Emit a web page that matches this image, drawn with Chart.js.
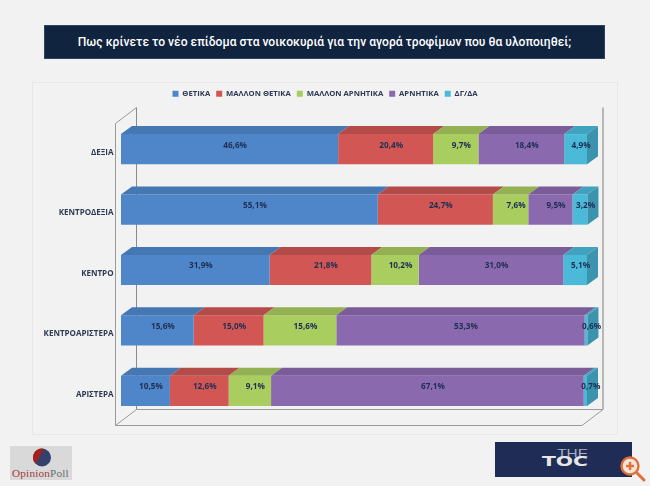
<!DOCTYPE html>
<html lang="el"><head><meta charset="utf-8">
<script src="https://cdn.jsdelivr.net/npm/chart.js@4"></script>
<style>
html,body{margin:0;padding:0;background:#f2f2f2;width:650px;height:486px;overflow:hidden}
#panel{position:absolute;left:32px;top:82px;width:584px;height:351px;border:1px solid #e8e8e8;box-sizing:content-box}
#banner{position:absolute;left:44px;top:25px;width:561px;height:34px;background:#10233f;color:#fff;font:500 12.1px Roboto,sans-serif;line-height:33px;text-align:center;box-sizing:border-box;border:1px solid #2e4460}
#c{position:absolute;left:0;top:0}
#op{position:absolute;left:10px;top:446px;width:62px;height:34px;background:#d9d9d9}
#op div{position:absolute;left:2px;top:21px;font:11.2px "Liberation Serif",serif;color:#a33a3a;letter-spacing:.2px;white-space:nowrap}
#op span{color:#6b6b6b}
#toc{position:absolute;left:495px;top:442px;width:137px;height:35px;background:#1f2c56}
#toc .t{position:absolute;left:59px;top:5px;width:34px;text-align:right;font:300 11px "Liberation Sans",sans-serif;color:#aab0c2;transform:scaleX(1.4);transform-origin:right center}
#toc .o{position:absolute;left:39px;top:11px;width:54px;text-align:right;font:900 14px "DejaVu Sans",sans-serif;line-height:17px;color:#e6e6e6;transform:scaleX(1.45);transform-origin:right center}
svg{position:absolute}
</style></head><body>
<div id="panel"></div>
<div id="banner">Πως κρίνετε το νέο επίδομα στα νοικοκυριά για την αγορά τροφίμων που θα υλοποιηθεί;</div>
<canvas id="c" width="650" height="486"></canvas>
<div id="op"><svg style="left:22px;top:2px" width="20" height="20"><circle cx="10" cy="9.5" r="9" fill="#34406e"/><path d="M10 .5A9 9 0 0 0 3.6 15.8L12 1Z" fill="#a3201c"/></svg><div>Opinion<span>Poll</span></div></div>
<div id="toc"><div class="t">THE</div><div class="o">TOC</div></div>
<svg style="left:618px;top:454px" width="32" height="32"><circle cx="12" cy="12" r="8.5" fill="#f4e3d8" stroke="#e0703a" stroke-width="2.4"/><path d="M18.5 18.5L26 26" stroke="#e0703a" stroke-width="3" stroke-linecap="round"/><path d="M12 8v8M8 12h8" stroke="#e0703a" stroke-width="2.4"/></svg>
<script>
const categories = ['ΔΕΞΙΑ','ΚΕΝΤΡΟΔΕΞΙΑ','ΚΕΝΤΡΟ','ΚΕΝΤΡΟΑΡΙΣΤΕΡΑ','ΑΡΙΣΤΕΡΑ'];
const seriesNames = ['ΘΕΤΙΚΑ','ΜΑΛΛΟΝ ΘΕΤΙΚΑ','ΜΑΛΛΟΝ ΑΡΝΗΤΙΚΑ','ΑΡΝΗΤΙΚΑ','ΔΓ/ΔΑ'];
const thetika = [46.6,55.1,31.9,15.6,10.5];
const mallonThetika = [20.4,24.7,21.8,15.0,12.6];
const mallonArnitika = [9.7,7.6,10.2,15.6,9.1];
const arnitika = [18.4,9.5,31.0,53.3,67.1];
const dgda = [4.9,3.2,5.1,0.6,0.7];
const seriesValues = [thetika,mallonThetika,mallonArnitika,arnitika,dgda];
const frontColors = ['#4f86c9','#d25654','#a9cd5f','#8b69ae','#4bb9d8'];
const topColors = ['#4577b3','#b34b49','#93b153','#7a5c98','#41a2bf'];
const sideColor = '#3c93ae';
const inkColor = '#1d2f55';
const DX = 11, DY = 8;

const depth3d = {
  id:'depth3d',
  beforeInit(chart){
    const fit = chart.legend.fit;
    chart.legend.fit = function(){ fit.call(this); this.height = 35; };
  },
  afterLayout(chart){
    const lg = chart.legend;
    const shift = (chart.width - lg.right - lg.left) / 2;
    lg.left += shift; lg.right += shift;
    lg.adjustHitBoxes();
  },
  beforeDatasetsDraw(chart){
    const {ctx,chartArea:a} = chart;
    const fl=a.left-5.5, ft=a.top+4.5, fb=a.bottom+4.5, fr=a.right-5;
    const bx=16, by=21;
    ctx.save(); ctx.lineWidth=1; ctx.strokeStyle='#8a8a8a';
    const L=(pts,c)=>{ctx.strokeStyle=c;ctx.beginPath();pts.forEach((p,i)=>i?ctx.lineTo(p[0],p[1]):ctx.moveTo(p[0],p[1]));ctx.stroke();};
    L([[fl+by,ft-bx],[fl,ft],[fl,fb],[fr,fb],[fr+by,fb-bx],[fl+by,fb-bx],[fl,fb]],'#9a9a9a');
    L([[fl+by,ft-bx],[fl+by,fb-bx]],'#8a8a8a');
    L([[fr+by,ft-bx],[fr+by,fb-bx]],'#7c7c7c');
    ctx.restore();
  },
  afterDatasetsDraw(chart){
    const {ctx} = chart;
    ctx.save();
    chart.data.datasets.forEach((ds,i)=>{
      chart.getDatasetMeta(i).data.forEach(bar=>{
        const p=bar.getProps(['x','y','base','height'],true);
        const y0=p.y-p.height/2, y1=p.y+p.height/2;
        ctx.fillStyle=topColors[i];
        ctx.beginPath();ctx.moveTo(p.base,y0);ctx.lineTo(p.base+DX,y0-DY);ctx.lineTo(p.x+DX,y0-DY);ctx.lineTo(p.x,y0);ctx.closePath();ctx.fill();
        if(i===chart.data.datasets.length-1){
          ctx.fillStyle=sideColor;
          ctx.beginPath();ctx.moveTo(p.x,y0);ctx.lineTo(p.x+DX,y0-DY);ctx.lineTo(p.x+DX,y1-DY);ctx.lineTo(p.x,y1);ctx.closePath();ctx.fill();
        }
      });
    });
    ctx.fillStyle=inkColor;
    ctx.font='bold 8.2px "Open Sans",sans-serif';
    ctx.textAlign='center';ctx.textBaseline='middle';
    chart.data.datasets.forEach((ds,i)=>{
      chart.getDatasetMeta(i).data.forEach((bar,j)=>{
        const p=bar.getProps(['x','y','base'],true);
        ctx.fillText(ds.data[j].toFixed(1).replace('.',',')+'%',(p.x+p.base)/2+DX/2,p.y-DY/2);
      });
    });
    ctx.restore();
  }
};

new Chart(document.getElementById('c'),{
  type:'bar',
  data:{labels:categories,datasets:seriesNames.map((n,i)=>({label:n,data:seriesValues[i],backgroundColor:frontColors[i],borderWidth:0,clip:false}))},
  options:{
    indexAxis:'y',responsive:false,animation:false,
    barPercentage:0.5,categoryPercentage:1,
    layout:{padding:{left:0,right:63,top:84,bottom:65}},
    scales:{
      x:{stacked:true,min:0,max:100,display:false},
      y:{stacked:true,grid:{display:false,drawTicks:false},border:{display:false},
         afterFit(s){s.width=121;},
         ticks:{padding:7.5,labelOffset:3.5,color:'#2e3b52',font:{family:'"Open Sans",sans-serif',size:8,weight:'bold'}}}
    },
    plugins:{
      tooltip:{enabled:false},
      legend:{position:'top',align:'center',labels:{boxWidth:6,boxHeight:6,padding:6,color:'#2e3b52',font:{family:'"Open Sans",sans-serif',size:7.7,weight:'bold'}}}
    }
  },
  plugins:[depth3d]
});
</script>
</body></html>
